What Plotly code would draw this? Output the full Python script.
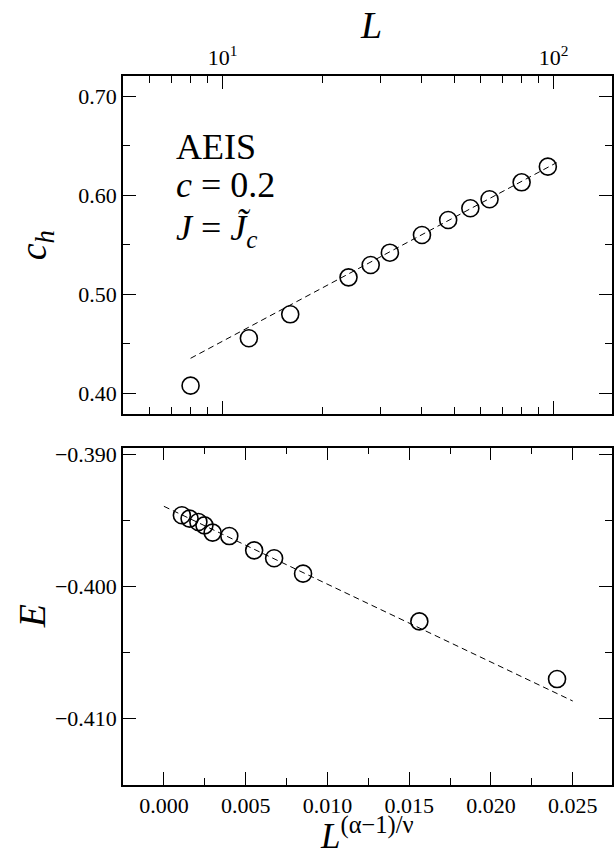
import numpy as np
import plotly.graph_objects as go

# ---- data ----
L_vals = [8, 12, 16, 24, 28, 32, 40, 48, 56, 64, 80, 96]
ch_vals = [0.4077, 0.4555, 0.4797, 0.5170, 0.5295, 0.5419, 0.5597, 0.5749,
           0.5867, 0.5958, 0.6129, 0.6287]
fit_L = [8.0, 102.0]
fit_ch = [0.4353, 0.6327]

x_scal = [0.00110, 0.00157, 0.00211, 0.00248, 0.00298, 0.00400, 0.00552,
          0.00674, 0.00851, 0.01562, 0.02404]
E_vals = [-0.39463, -0.39488, -0.39514, -0.39539, -0.39594, -0.39620,
          -0.39728, -0.39788, -0.39904, -0.40265, -0.40701]
fit_x = [0.0, 0.0250]
fit_E = [-0.39395, -0.40867]

top_tickvals = [10, 100]
top_ticktext = ["10<sup>1</sup>", "10<sup>2</sup>"]
top_minor = [6, 7, 8, 9, 20, 30, 40, 50, 60, 70, 80, 90]

FONT = "Liberation Serif"
W, H = 616, 858
ML, MR, MT, MB = 123, 2, 76, 73

fig = go.Figure()

marker = dict(symbol="circle-open", size=17, color="black", line=dict(width=1.6, color="black"))
dash = dict(color="black", width=1, dash="6px,4px")

fig.add_trace(go.Scatter(x=fit_L, y=fit_ch, mode="lines", line=dash,
                         xaxis="x", yaxis="y", showlegend=False))
fig.add_trace(go.Scatter(x=L_vals, y=ch_vals, mode="markers", marker=marker,
                         xaxis="x", yaxis="y", showlegend=False))
fig.add_trace(go.Scatter(x=fit_x, y=fit_E, mode="lines", line=dash,
                         xaxis="x2", yaxis="y2", showlegend=False))
fig.add_trace(go.Scatter(x=x_scal, y=E_vals, mode="markers", marker=marker,
                         xaxis="x2", yaxis="y2", showlegend=False))

plot_h = H - MT - MB
top_dom = [(785 - 414) / plot_h, 1.0]
bot_dom = [0.0, (785 - 447.7) / plot_h]

axis_common = dict(showline=True, linecolor="black", linewidth=1.5, mirror="ticks",
                   ticks="inside", ticklen=13, tickwidth=1.2, tickcolor="black",
                   showgrid=False, zeroline=False,
                   tickfont=dict(family=FONT, size=22, color="black"))
minor_common = dict(ticks="inside", ticklen=7, tickwidth=1.2, tickcolor="black", showgrid=False)

fig.update_layout(
    width=W, height=H,
    margin=dict(l=ML, r=MR, t=MT, b=MB),
    paper_bgcolor="white", plot_bgcolor="white",
    font=dict(family=FONT, color="black"),
    xaxis=dict(type="log", range=[np.log10(5), np.log10(150)], side="top",
               anchor="y", domain=[0, 1],
               tickmode="array", tickvals=top_tickvals, ticktext=top_ticktext,
               minor=dict(tickmode="array", tickvals=top_minor, **minor_common),
               **axis_common),
    yaxis=dict(range=[0.3791, 0.7202], domain=top_dom, anchor="x",
               tickmode="array", tickvals=[0.40, 0.50, 0.60, 0.70],
               ticktext=["0.40", "0.50", "0.60", "0.70"],
               minor=dict(tickmode="array", tickvals=[0.45, 0.55, 0.65], **minor_common),
               **axis_common),
    xaxis2=dict(range=[-0.0025, 0.0274], anchor="y2", domain=[0, 1],
                tickmode="array", tickvals=[0.0, 0.005, 0.010, 0.015, 0.020, 0.025],
                ticktext=["0.000", "0.005", "0.010", "0.015", "0.020", "0.025"],
                minor=dict(tickmode="array",
                           tickvals=[-0.0025, 0.0025, 0.0075, 0.0125, 0.0175, 0.0225],
                           **minor_common),
                **axis_common),
    yaxis2=dict(range=[-0.41502, -0.38952], domain=bot_dom, anchor="x2",
                tickmode="array", tickvals=[-0.41, -0.40, -0.39],
                ticktext=["\u22120.410", "\u22120.400", "\u22120.390"],
                minor=dict(tickmode="array", tickvals=[-0.405, -0.395], **minor_common),
                **axis_common),
)

pw = W - ML - MR


def px_to_paper_x(px):
    return (px - ML) / pw


def px_to_paper_y(py):
    return (H - MB - py) / plot_h


annos = [
    dict(text="<i>L</i>", x=px_to_paper_x(372), y=px_to_paper_y(48), xanchor="center",
         yanchor="bottom", font=dict(size=38)),
    dict(text="<i>c</i><sub><i>h</i></sub>", x=px_to_paper_x(36), y=px_to_paper_y(245),
         xanchor="center", yanchor="middle", textangle=-90, font=dict(size=38)),
    dict(text="<i>E</i>", x=px_to_paper_x(32), y=px_to_paper_y(616),
         xanchor="center", yanchor="middle", textangle=-90, font=dict(size=38)),
    dict(text="<i>L</i><sup>(\u03b1\u22121)/\u03bd</sup>", x=px_to_paper_x(368),
         y=px_to_paper_y(858), xanchor="center", yanchor="bottom", font=dict(size=35)),
    dict(text="AEIS", x=px_to_paper_x(174), y=px_to_paper_y(169), xanchor="left",
         yanchor="bottom", font=dict(size=36)),
    dict(text="<i>c</i> = 0.2", x=px_to_paper_x(174), y=px_to_paper_y(207), xanchor="left",
         yanchor="bottom", font=dict(size=36)),
    dict(text="<i>J</i> = <i>J\u0303</i><sub><i>c</i></sub>", x=px_to_paper_x(174),
         y=px_to_paper_y(255), xanchor="left", yanchor="bottom", font=dict(size=36)),
]
for a in annos:
    a.update(xref="paper", yref="paper", showarrow=False)
    a["font"].update(family=FONT, color="black")
    fig.add_annotation(**a)

fig.write_html("out.html")
